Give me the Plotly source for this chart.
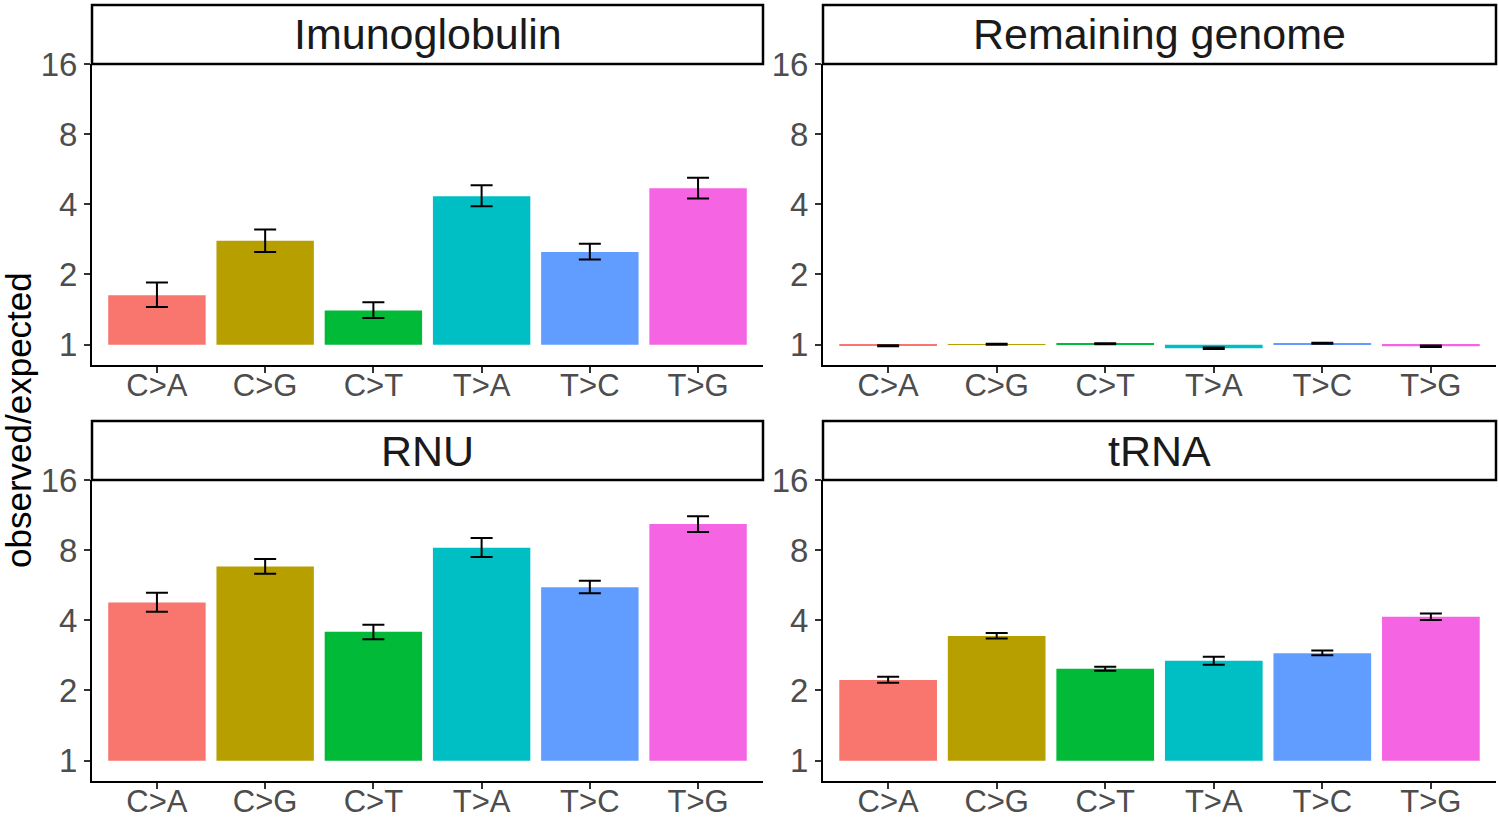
import math
import plotly.graph_objects as go

categories = ["C>A", "C>G", "C>T", "T>A", "T>C", "T>G"]
colors = ["#F8766D", "#B79F00", "#00BA38", "#00BFC4", "#619CFF", "#F564E3"]
panels = ["Imunoglobulin", "Remaining genome", "RNU", "tRNA"]

imuno_val = [1.63, 2.79, 1.40, 4.33, 2.50, 4.69]
imuno_lo = [1.45, 2.50, 1.30, 3.92, 2.32, 4.24]
imuno_hi = [1.85, 3.12, 1.52, 4.83, 2.71, 5.20]

remain_val = [0.99, 1.005, 1.01, 0.965, 1.015, 0.985]
remain_lo = [0.985, 1.0, 1.005, 0.958, 1.01, 0.978]
remain_hi = [0.995, 1.01, 1.015, 0.972, 1.02, 0.992]

rnu_val = [4.77, 6.80, 3.57, 8.20, 5.55, 10.37]
rnu_lo = [4.35, 6.33, 3.32, 7.48, 5.23, 9.58]
rnu_hi = [5.25, 7.34, 3.83, 9.03, 5.92, 11.18]

trna_val = [2.22, 3.43, 2.48, 2.68, 2.89, 4.14]
trna_lo = [2.16, 3.34, 2.43, 2.58, 2.83, 4.01]
trna_hi = [2.29, 3.53, 2.53, 2.79, 2.97, 4.28]

y_ticks = [1, 2, 4, 8, 16]
y_ticktext = ["1", "2", "4", "8", "16"]

data = [
    (imuno_val, imuno_lo, imuno_hi),
    (remain_val, remain_lo, remain_hi),
    (rnu_val, rnu_lo, rnu_hi),
    (trna_val, trna_lo, trna_hi),
]

W, H = 1499, 818
# pixel layout
x_px = [(92, 763), (823, 1496)]
y_px = [(64, 365), (480, 781)]  # panel top/bottom (from top)
strip_h = 59

FONT = "Liberation Sans, Arial, Helvetica, sans-serif"

fig = go.Figure()
layout_axes = {}
shapes = []
annotations = []

l2 = math.log10(2)
for i, name in enumerate(panels):
    r, c = divmod(i, 2)
    idx = i + 1
    xa = "x" if idx == 1 else f"x{idx}"
    ya = "y" if idx == 1 else f"y{idx}"
    vals, lo, hi = data[i]
    fig.add_trace(go.Bar(
        x=categories,
        y=[v - 1 for v in vals],
        base=[1] * len(vals),
        marker=dict(color=colors, line=dict(width=0)),
        width=0.9,
        xaxis=xa, yaxis=ya, showlegend=False, hoverinfo="skip",
    ))
    fig.add_trace(go.Scatter(
        x=categories, y=vals, mode="markers",
        marker=dict(size=1, color="rgba(0,0,0,0)"),
        error_y=dict(type="data", symmetric=False,
                     array=[h - v for h, v in zip(hi, vals)],
                     arrayminus=[v - l for v, l in zip(vals, lo)],
                     color="black", thickness=2, width=11),
        xaxis=xa, yaxis=ya, showlegend=False, hoverinfo="skip",
    ))
    x0, x1 = x_px[c]
    yt, yb = y_px[r]
    xdom = [x0 / W, x1 / W]
    ydom = [(H - yb) / H, (H - yt) / H]
    layout_axes["xaxis" if idx == 1 else f"xaxis{idx}"] = dict(
        domain=xdom, anchor=ya, type="category", categoryorder="array",
        categoryarray=categories, range=[-0.6, 5.6], automargin=False,
        showline=True, linecolor="black", linewidth=2, mirror=False,
        ticks="outside", ticklen=6, tickwidth=1.5, tickcolor="#333333",
        showgrid=False, zeroline=False, ticklabelstandoff=-14,
        tickfont=dict(family=FONT, size=31, color="#4D4D4D"),
    )
    layout_axes["yaxis" if idx == 1 else f"yaxis{idx}"] = dict(
        domain=ydom, anchor=xa, type="log", automargin=False,
        range=[-0.29 * l2, 4 * l2],
        tickvals=y_ticks, ticktext=y_ticktext,
        showline=True, linecolor="black", linewidth=2,
        ticks="outside", ticklen=6, tickwidth=1.5, tickcolor="#333333",
        showgrid=False, zeroline=False,
        tickfont=dict(family=FONT, size=33, color="#4D4D4D"),
    )
    # strip
    sx0, sx1 = x0 / W, x1 / W
    sy0 = (H - yt) / H
    sy1 = (H - (yt - strip_h)) / H
    shapes.append(dict(type="rect", xref="paper", yref="paper",
                       x0=sx0, x1=sx1, y0=sy0, y1=sy1,
                       line=dict(color="black", width=2.5),
                       fillcolor="white", layer="above"))
    annotations.append(dict(text=name, xref="paper", yref="paper",
                            x=(sx0 + sx1) / 2, y=(sy0 + sy1) / 2,
                            xanchor="center", yanchor="middle", showarrow=False,
                            font=dict(family=FONT, size=43, color="#1A1A1A")))

annotations.append(dict(text="observed/expected", xref="paper", yref="paper",
                        x=18 / W, y=(H - 420) / H, textangle=-90,
                        xanchor="center", yanchor="middle", showarrow=False,
                        font=dict(family=FONT, size=35, color="black")))

fig.update_layout(
    width=W, height=H,
    margin=dict(l=0, r=0, t=0, b=0, autoexpand=False),
    paper_bgcolor="white", plot_bgcolor="white",
    shapes=shapes, annotations=annotations,
    bargap=0.1,
    **layout_axes,
)

fig.write_html(
    "out.html",
    config={"displayModeBar": False},
    post_script="document.body.style.margin='0';document.body.style.overflow='hidden';",
)
